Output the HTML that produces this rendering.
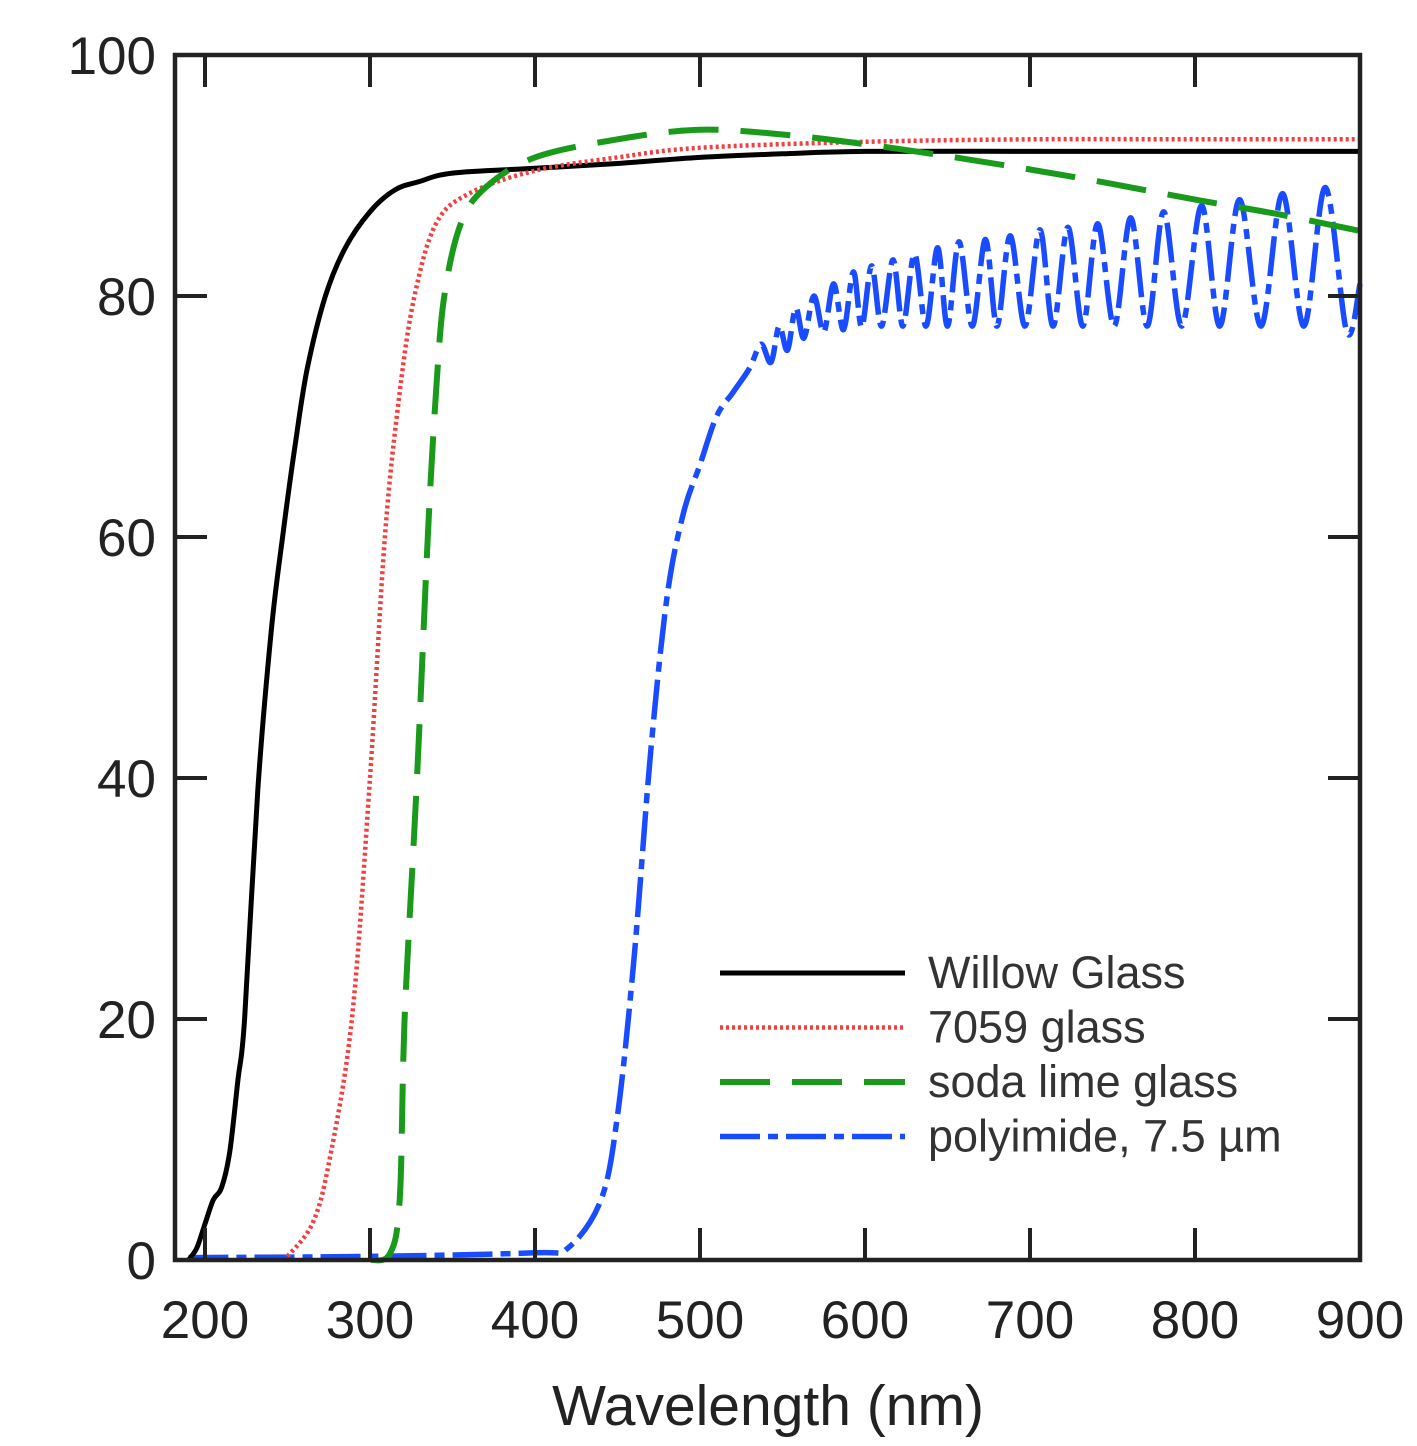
<!DOCTYPE html>
<html><head><meta charset="utf-8"><style>
html,body{margin:0;padding:0;background:#fff;}
svg{display:block;font-family:"Liberation Sans",sans-serif;}
</style></head><body>
<svg id="chart" width="1417" height="1446" viewBox="0 0 1417 1446">
<g id="marks"></g>
<g id="axes"></g>
<g id="legend"></g>
</svg>
<script>
const xTicks=[200,300,400,500,600,700,800,900];
const yTicks=[0,20,40,60,80,100];
const willowNm=[190,195,200,205,210,215,220,224,232,240,247,255,262,273,285,300,315,330,350,400,450,500,550,600,700,800,900];
const willowT=[0,1,3,5,6,9,15,20,39,52,60,68,74,80,84,87,88.8,89.5,90.2,90.6,91,91.5,91.8,92,92,92,92];
const glassNm=[250,265,275,289,300,309,318,327,340,360,400,450,500,600,700,800,900];
const glassT=[0.3,3,8,20,40,60,72,80,86,88.5,90.4,91.5,92.3,92.8,93,93,93];
const sodaNm=[300,312,318,321,328.5,335,340,345,355,370,400,450,500,550,600,650,700,750,800,850,900];
const sodaT=[0,0.5,5,20,40,60,72,80,86,89,91.5,93,93.8,93.4,92.6,91.6,90.5,89.3,88,86.8,85.4];
const polyNm=[190,300,400,420,440,450,460,470,480,490,500,510,520,530,537,543,548,553,558,563,569,575,581,587,593,598,604,610,617,623,630,637,644,650,657,665,673,680,688,697,706,714,723,732,741,751,761,771,781,792,804,815,827,840,853,866,879,892,900];
const polyT=[0.2,0.3,0.6,1,5,12,25,42,55,62,66,70,72,74,76,74.5,77.5,75.5,79,76.5,80,77,81,77.2,82,77.4,82.5,77.5,83,77.5,83.5,77.5,84,77.5,84.5,77.5,84.7,77.5,85,77.5,85.5,77.5,85.7,77.5,86,77.5,86.5,77.5,87,77.5,87.5,77.5,88,77.5,88.5,77.5,89,77,81];
const legendLabels=["Willow Glass","7059 glass","soda lime glass","polyimide, 7.5 µm"];

const NS="http://www.w3.org/2000/svg";
const L=175,R=1360,T=55,B=1260;
const xs=v=>205+(v-200)*1.65;
const ys=v=>B-(v/100)*(B-T);
function mk(tag,attrs,parent){const e=document.createElementNS(NS,tag);for(const k in attrs)e.setAttribute(k,attrs[k]);parent.appendChild(e);return e;}
function pathFrom(nm,t){
  const p=nm.map((n,i)=>[xs(n),ys(t[i])]);
  let d="M"+p[0][0]+","+p[0][1];
  for(let i=0;i<p.length-1;i++){
    const p0=p[i-1]||p[i],p1=p[i],p2=p[i+1],p3=p[i+2]||p2;
    const c1=[p1[0]+(p2[0]-p0[0])/6,p1[1]+(p2[1]-p0[1])/6];
    const c2=[p2[0]-(p3[0]-p1[0])/6,p2[1]-(p3[1]-p1[1])/6];
    d+=" C"+c1[0].toFixed(1)+","+c1[1].toFixed(1)+" "+c2[0].toFixed(1)+","+c2[1].toFixed(1)+" "+p2[0].toFixed(1)+","+p2[1].toFixed(1);
  }
  return d;
}
const marks=document.getElementById('marks');
const axes=document.getElementById('axes');
const legend=document.getElementById('legend');
const styles=[
 {c:"#000",w:5,da:""},
 {c:"#f04040",w:4.5,da:"3 3"},
 {c:"#1a9a1a",w:6,da:"50 22"},
 {c:"#1a4cff",w:5.5,da:"40 8 10 8"}
];
const series=[[willowNm,willowT],[glassNm,glassT],[sodaNm,sodaT],[polyNm,polyT]];
const names=['willow-glass-line','glass-7059-line','soda-lime-glass-line','polyimide-line'];
const order=[3,0,1,2];
order.forEach(i=>{
  const s=styles[i];
  const el=mk('path',{d:pathFrom(series[i][0],series[i][1]),fill:"none",stroke:s.c,"stroke-width":s.w,"stroke-dasharray":s.da,"stroke-linejoin":"round"},marks);
  
  
});
const fr=mk('rect',{x:L,y:T,width:R-L,height:B-T,fill:"none",stroke:"#222","stroke-width":4.5},axes);


xTicks.forEach(v=>{
  const x=xs(v);
  const t1=mk('line',{x1:x,y1:B,x2:x,y2:B-32,stroke:"#222","stroke-width":4},axes);
  
  
  const t2=mk('line',{x1:x,y1:T,x2:x,y2:T+32,stroke:"#222","stroke-width":4},axes);
  
  
  const tx=mk('text',{x:x,y:1338,"text-anchor":"middle","font-size":53,fill:"#222"},axes);
  tx.textContent=v;
  
  
});
yTicks.forEach(v=>{
  const y=ys(v);
  const t1=mk('line',{x1:L,y1:y,x2:L+32,y2:y,stroke:"#222","stroke-width":4},axes);
  
  
  const t2=mk('line',{x1:R,y1:y,x2:R-32,y2:y,stroke:"#222","stroke-width":4},axes);
  
  
  const tx=mk('text',{x:156,y:y+19,"text-anchor":"end","font-size":53,fill:"#222"},axes);
  tx.textContent=v;
  
  
});
const xt=mk('text',{x:768,y:1425,"text-anchor":"middle","font-size":57,fill:"#222"},axes);
xt.textContent="Wavelength (nm)";


legendLabels.forEach((lab,i)=>{
  const y=973+i*54.5;
  const s=styles[i];
  const ln=mk('line',{x1:720,y1:y,x2:905,y2:y,stroke:s.c,"stroke-width":s.w,"stroke-dasharray":s.da},legend);
  
  
  const tx=mk('text',{x:928,y:y+15,"font-size":45,fill:"#333"},legend);
  tx.textContent=lab;
  
  
});
</script>
</body></html>
